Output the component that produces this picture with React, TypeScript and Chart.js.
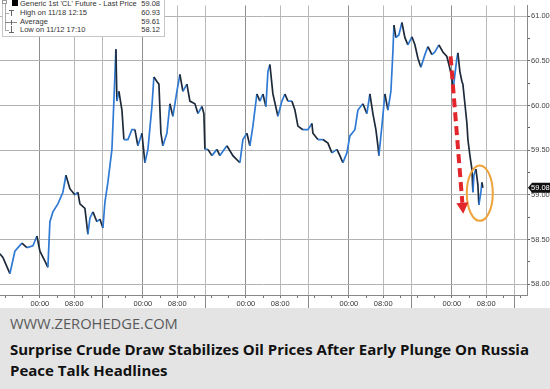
import React, { useEffect, useRef } from "react";
import { Chart, registerables } from "chart.js";
Chart.register(...registerables);

// Trading-time hours from 11/13 00:00 (weekend removed)
const hours = [
  -9.32, -8.62, -6.99, -5.83, -4.19, -3.03, -1.63, -0.7, 0.0, 1.17, 1.86, 2.33, 3.03, 4.19, 5.36, 6.06, 6.99, 8.16, 8.85, 9.32,
  10.49, 11.18, 11.65, 12.35, 13.28, 13.98, 14.68, 15.15, 15.84, 16.78, 17.24, 17.71, 17.94, 18.41, 19.11, 19.57, 20.5, 21.44,
  22.14, 22.83, 23.77, 24.47, 25.17, 26.1, 26.56, 27.26, 27.73, 28.19, 28.66, 29.59, 30.29, 30.99, 31.92, 32.62, 33.32, 34.25,
  34.95, 36.12, 36.82, 37.75, 38.21, 38.45, 39.15, 40.08, 41.24, 41.94, 43.57, 44.97, 46.6, 47.3, 48.23, 48.93, 49.63, 50.56,
  51.26, 51.96, 52.66, 53.13, 53.59, 54.29, 55.46, 56.39, 57.09, 57.79, 58.72, 59.42, 60.12, 61.28, 62.45, 63.38, 63.61, 64.78,
  65.94, 67.11, 68.04, 69.2, 69.9, 70.6, 71.53, 72.23, 73.4, 74.1, 75.26, 76.19, 76.89, 77.59, 78.29, 78.76, 78.99, 79.69,
  80.39, 81.09, 81.79, 82.25, 82.49, 82.95, 83.65, 84.35, 85.05, 85.75, 86.68, 87.38, 88.08, 88.78, 89.71, 90.41, 91.34, 92.04,
  92.97, 93.9, 94.83, 95.3, 96.0, 96.23, 96.7, 97.17, 97.4, 97.86, 98.33, 98.56, 99.03, 99.5, 99.73, 100.2, 100.66, 100.89,
  101.13, 101.59, 102.06, 102.29, 102.76, 102.99, 103.22,
];
const prices = [
  58.34, 58.3, 58.12, 58.37, 58.46, 58.41, 58.43, 58.54, 58.37, 58.26, 58.19, 58.7, 58.81, 58.9, 59.03, 59.22, 59.07, 59.0, 59.03, 58.9,
  58.85, 58.56, 58.74, 58.81, 58.7, 58.73, 58.63, 58.92, 59.14, 59.51, 60.05, 60.63, 60.05, 60.16, 59.95, 59.62, 59.62, 59.73,
  59.73, 59.55, 59.69, 59.36, 59.51, 59.99, 60.32, 60.27, 60.24, 59.69, 59.55, 59.69, 60.02, 59.88, 60.16, 60.35, 60.16, 60.24,
  60.05, 60.02, 59.91, 59.99, 59.91, 59.51, 59.51, 59.44, 59.51, 59.44, 59.55, 59.44, 59.36, 59.62, 59.69, 59.55, 59.77, 60.13,
  60.05, 60.13, 59.99, 60.38, 60.46, 60.13, 59.88, 60.05, 60.13, 60.05, 60.05, 59.95, 59.77, 59.73, 59.73, 59.8, 59.69, 59.62,
  59.62, 59.58, 59.47, 59.51, 59.44, 59.36, 59.47, 59.66, 59.73, 59.95, 60.02, 59.91, 60.13, 59.91, 59.73, 59.55, 59.44, 59.77,
  60.13, 59.95, 60.16, 60.6, 60.9, 60.76, 60.79, 60.93, 60.76, 60.68, 60.77, 60.68, 60.53, 60.43, 60.57, 60.66, 60.57, 60.6,
  60.68, 60.6, 60.55, 60.46, 60.32, 60.16, 60.35, 60.53, 60.59, 60.38, 60.27, 60.24, 60.02, 59.8, 59.62, 59.44, 59.29, 59.03,
  59.22, 59.29, 59.11, 58.89, 59.03, 59.14, 59.08,
];

const xMin = -9.3;
const xMax = 113.5;
const yMin = 57.88;
const yMax = 61.12;
const yTickStep = 0.25;
const xTickOffsets = [0, 4, 8, 12, 14.5, 16, 20];
const xTickLabels: Record<string, string> = { "0": "00:00", "8": "08:00" };
const lastPrice = 59.08;

const legendLabels = ["Generic 1st 'CL' Future - Last Price", "High on 11/18 12:15", "Average", "Low on 11/12 17:10"];
const legendValues = ["59.08", "60.93", "59.61", "58.12"];

const arrowFrom = { x: 95.7, y: 60.55 };
const arrowTo = { x: 98.64, y: 58.79 };
const ellipseAnn = { x: 102.5, y: 59.02, rx: 3.03, ry: 0.31 };

const sourceText = "WWW.ZEROHEDGE.COM";
const titleText = "Surprise Crude Draw Stabilizes Oil Prices After Early Plunge On Russia Peace Talk Headlines";

const hod = (v: number) => Math.round((((v % 24) + 24) % 24) * 100) / 100;
const AXIS_FONT = { family: "Liberation Sans", size: 7.5 };

const annotationPlugin = {
  id: "annots",
  afterDatasetsDraw(chart: any) {
    const { ctx } = chart;
    const xs = chart.scales.x;
    const ys = chart.scales.y;
    // ellipse
    const cx = xs.getPixelForValue(ellipseAnn.x);
    const cy = ys.getPixelForValue(ellipseAnn.y);
    const rx = xs.getPixelForValue(ellipseAnn.x + ellipseAnn.rx) - cx;
    const ry = cy - ys.getPixelForValue(ellipseAnn.y + ellipseAnn.ry);
    ctx.save();
    ctx.strokeStyle = "#eea23a";
    ctx.lineWidth = 2;
    ctx.beginPath();
    ctx.ellipse(cx, cy, rx, ry, 0, 0, Math.PI * 2);
    ctx.stroke();
    // arrow
    const x1 = xs.getPixelForValue(arrowFrom.x);
    const y1 = ys.getPixelForValue(arrowFrom.y);
    const x2 = xs.getPixelForValue(arrowTo.x);
    const y2 = ys.getPixelForValue(arrowTo.y);
    const dx = x2 - x1;
    const dy = y2 - y1;
    const len = Math.hypot(dx, dy);
    const ux = dx / len;
    const uy = dy / len;
    const head = 11;
    const bx = x2 - ux * head;
    const by = y2 - uy * head;
    ctx.strokeStyle = "#e2262c";
    ctx.fillStyle = "#e2262c";
    ctx.lineWidth = 4;
    ctx.setLineDash([9, 5]);
    ctx.beginPath();
    ctx.moveTo(x1, y1);
    ctx.lineTo(bx, by);
    ctx.stroke();
    ctx.setLineDash([]);
    const px = -uy;
    const py = ux;
    ctx.beginPath();
    ctx.moveTo(x2, y2);
    ctx.lineTo(bx + px * 6, by + py * 6);
    ctx.lineTo(bx - px * 6, by - py * 6);
    ctx.closePath();
    ctx.fill();
    ctx.restore();
  },
  afterDraw(chart: any) {
    const { ctx, chartArea } = chart;
    const xs = chart.scales.x;
    const ys = chart.scales.y;
    ctx.save();
    // date separators under the time axis
    ctx.strokeStyle = "#8a8a8a";
    ctx.lineWidth = 1;
    for (let d = -1; d <= 5; d++) {
      const v = d * 24 + 14.5;
      if (v < xMin || v > xMax) continue;
      const x = Math.round(xs.getPixelForValue(v)) + 0.5;
      ctx.beginPath();
      ctx.moveTo(x, chartArea.bottom);
      ctx.lineTo(x, chart.height);
      ctx.stroke();
    }
    // last price tag
    const y = ys.getPixelForValue(lastPrice);
    const r = chartArea.right;
    ctx.fillStyle = "#111";
    ctx.beginPath();
    ctx.moveTo(r + 1, y);
    ctx.lineTo(r + 5, y - 5);
    ctx.lineTo(chart.width, y - 5);
    ctx.lineTo(chart.width, y + 5);
    ctx.lineTo(r + 5, y + 5);
    ctx.closePath();
    ctx.fill();
    ctx.fillStyle = "#fff";
    ctx.font = "7.5px 'Liberation Sans'";
    ctx.textAlign = "left";
    ctx.textBaseline = "middle";
    ctx.fillText(lastPrice.toFixed(2), r + 4, y + 0.5);
    ctx.restore();
  },
};

export default function App() {
  const canvasRef = useRef<HTMLCanvasElement>(null);

  useEffect(() => {
    document.body.style.margin = "0";
    const xTicks: number[] = [];
    for (let d = -1; d <= 5; d++) {
      for (const o of xTickOffsets) {
        const v = d * 24 + o;
        if (v >= xMin && v <= xMax) xTicks.push(v);
      }
    }
    const yTicks: number[] = [];
    for (let v = 58; v <= 61.0001; v += yTickStep) yTicks.push(Math.round(v * 100) / 100);

    const chart = new Chart(canvasRef.current as HTMLCanvasElement, {
      type: "line",
      data: {
        datasets: [
          {
            data: hours.map((h, i) => ({ x: h, y: prices[i] })),
            borderColor: "#2f78d0",
            borderWidth: 1.7,
            pointRadius: 0,
            tension: 0,
            segment: {
              borderColor: (c: any) => (c.p1.parsed.y < c.p0.parsed.y ? "#1e2a3a" : "#2f7ad4"),
            },
          },
        ],
      },
      options: {
        animation: false,
        responsive: false,
        devicePixelRatio: 1,
        layout: { padding: 0 },
        plugins: { legend: { display: false }, tooltip: { enabled: false } },
        scales: {
          x: {
            type: "linear",
            min: xMin,
            max: xMax,
            afterBuildTicks: (s: any) => {
              s.ticks = xTicks.map((v) => ({ value: v }));
            },
            afterFit: (s: any) => {
              s.height = 13;
            },
            border: { display: true, color: "#888", width: 1 },
            grid: {
              color: (c: any) => {
                const h = hod(c.tick ? c.tick.value : 1);
                if (h === 0) return "#8e8e8e";
                if (h === 8 || h === 14.5) return "#b9b9b9";
                return "rgba(0,0,0,0)";
              },
              borderDash: (c: any) => {
                const h = hod(c.tick ? c.tick.value : 1);
                return h === 0 ? [] : [1, 2];
              },
              lineWidth: 1,
              drawTicks: true,
              tickLength: 3,
              tickColor: (c: any) => (hod(c.tick ? c.tick.value : 1) === 14.5 ? "rgba(0,0,0,0)" : "#777"),
              tickBorderDash: [],
            },
            ticks: {
              autoSkip: false,
              maxRotation: 0,
              padding: 1,
              color: "#333",
              font: AXIS_FONT,
              callback: (v: any) => xTickLabels[String(hod(Number(v)))] || "",
            },
          },
          y: {
            type: "linear",
            position: "right",
            min: yMin,
            max: yMax,
            afterBuildTicks: (s: any) => {
              s.ticks = yTicks.map((v) => ({ value: v }));
            },
            afterFit: (s: any) => {
              s.width = 23;
            },
            border: { display: true, color: "#888", width: 1 },
            grid: {
              color: (c: any) => {
                const v = c.tick ? c.tick.value : 0;
                return Math.abs(v * 2 - Math.round(v * 2)) < 1e-6 ? "#b3b3b3" : "rgba(0,0,0,0)";
              },
              borderDash: [2, 3],
              lineWidth: 1,
              drawTicks: true,
              tickLength: 3,
              tickColor: "#666",
              tickBorderDash: [],
            },
            ticks: {
              padding: 1,
              color: "#444",
              font: AXIS_FONT,
              callback: (v: any) => {
                const n = Number(v);
                return Math.abs(n * 2 - Math.round(n * 2)) < 1e-6 ? n.toFixed(2) : "";
              },
            },
          },
        },
      },
      plugins: [annotationPlugin],
    } as any);
    return () => chart.destroy();
  }, []);

  const rowTop = (i: number) => -1 + i * 8.8;

  return (
    <div style={{ position: "relative", width: 550, height: 389, background: "#fff", overflow: "hidden" }}>
      <canvas ref={canvasRef} width={550} height={308} style={{ position: "absolute", left: 0, top: 0, width: 550, height: 308 }} />
      {/* legend box */}
      <div
        style={{
          position: "absolute",
          left: 2,
          top: -5,
          width: 161,
          height: 40,
          border: "1px solid #c6c6c6",
          background: "#fff",
        }}
      />
      <div style={{ position: "absolute", left: 2, top: 0, width: 5, height: 4, border: "1px solid #999", boxSizing: "border-box" }} />
      <div style={{ position: "absolute", left: 5, top: 4, width: 1, height: 27, background: "#aaa" }} />
      <div style={{ position: "absolute", left: 12, top: 0, width: 6, height: 6, background: "#000" }} />
      {/* high marker */}
      <div style={{ position: "absolute", left: 5, top: 13, width: 4, height: 1, background: "#aaa" }} />
      <div style={{ position: "absolute", left: 9, top: 10, width: 5, height: 1, background: "#666" }} />
      <div style={{ position: "absolute", left: 11, top: 10, width: 1, height: 6, background: "#666" }} />
      {/* average marker */}
      <div style={{ position: "absolute", left: 5, top: 22, width: 12, height: 1, background: "#888" }} />
      <div style={{ position: "absolute", left: 11, top: 20, width: 1, height: 5, background: "#666" }} />
      {/* low marker */}
      <div style={{ position: "absolute", left: 5, top: 30, width: 4, height: 1, background: "#aaa" }} />
      <div style={{ position: "absolute", left: 11, top: 26, width: 1, height: 6, background: "#666" }} />
      <div style={{ position: "absolute", left: 9, top: 32, width: 5, height: 1, background: "#666" }} />
      {legendLabels.map((t, i) => (
        <div
          key={"l" + i}
          style={{
            position: "absolute",
            left: 20,
            top: rowTop(i),
            height: 9,
            lineHeight: "9px",
            fontFamily: "'Liberation Sans', sans-serif",
            fontSize: 7.5,
            color: "#333",
            whiteSpace: "nowrap",
          }}
        >
          {t}
        </div>
      ))}
      {legendValues.map((t, i) => (
        <div
          key={"v" + i}
          style={{
            position: "absolute",
            right: 550 - 160,
            top: rowTop(i),
            height: 9,
            lineHeight: "9px",
            fontFamily: "'Liberation Sans', sans-serif",
            fontSize: 7.5,
            color: "#333",
            whiteSpace: "nowrap",
          }}
        >
          {t}
        </div>
      ))}
      {/* caption */}
      <div style={{ position: "absolute", left: 0, top: 308, width: 550, height: 81, background: "#e4e4e4" }}>
        <div
          style={{
            position: "absolute",
            left: 10,
            top: 6,
            fontFamily: "'Open Sans', sans-serif",
            fontWeight: 400,
            fontSize: 14.7,
            lineHeight: "18px",
            color: "#5a5a5a",
            whiteSpace: "nowrap",
          }}
        >
          {sourceText}
        </div>
        <div
          style={{
            position: "absolute",
            left: 10,
            top: 31,
            width: 530,
            fontFamily: "'Open Sans', sans-serif",
            fontWeight: 700,
            fontSize: 15,
            lineHeight: "21px",
            color: "#111",
          }}
        >
          {titleText}
        </div>
      </div>
    </div>
  );
}
